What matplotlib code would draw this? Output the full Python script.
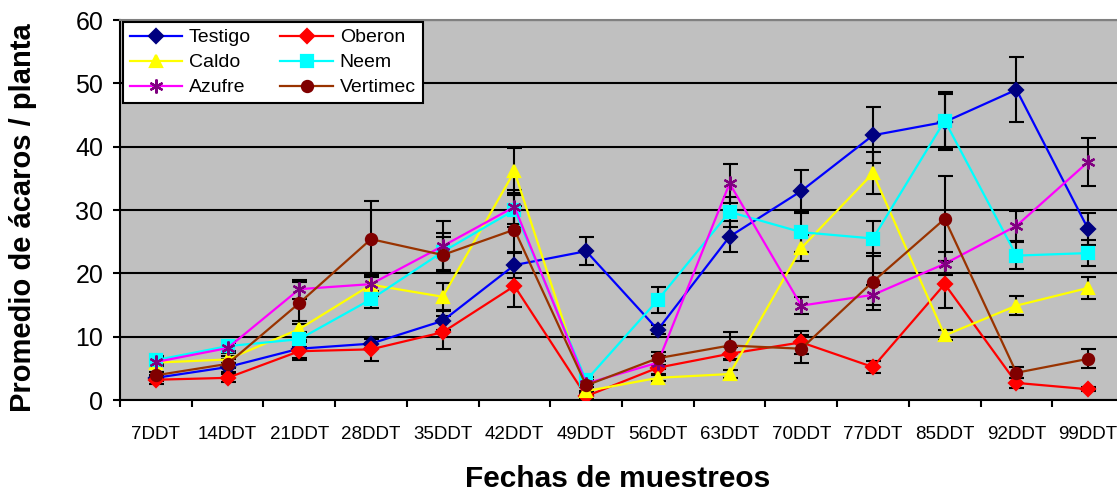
import matplotlib
matplotlib.use('Agg')
import matplotlib.pyplot as plt
import numpy as np

plt.rcParams['font.family'] = ['Liberation Sans', 'DejaVu Sans']

# fechas de muestreo y promedios por tratamiento
fechas = ['7DDT', '14DDT', '21DDT', '28DDT', '35DDT', '42DDT', '49DDT',
          '56DDT', '63DDT', '70DDT', '77DDT', '85DDT', '92DDT', '99DDT']

testigo = [3.5, 5.2, 8.1, 8.9, 12.5, 21.3, 23.5, 11.1, 25.8, 33.0, 41.8, 43.9, 49.0, 27.0]
oberon = [3.2, 3.5, 7.7, 8.0, 10.7, 18.0, 0.6, 5.1, 7.3, 9.1, 5.2, 18.3, 2.7, 1.7]
caldo = [5.9, 6.4, 11.2, 18.2, 16.3, 36.1, 1.4, 3.5, 4.1, 24.0, 35.8, 10.2, 14.9, 17.7]
neem = [6.3, 8.5, 9.6, 15.9, 23.4, 30.0, 3.1, 15.8, 29.7, 26.5, 25.5, 44.1, 22.8, 23.2]
azufre = [6.0, 8.2, 17.5, 18.3, 24.3, 30.5, 2.6, 5.9, 34.2, 14.9, 16.6, 21.5, 27.5, 37.6]
vertimec = [3.9, 5.7, 15.3, 25.4, 22.9, 26.9, 2.3, 6.6, 8.6, 8.1, 18.7, 28.6, 4.3, 6.5]

# error (+/-)
err_testigo = [0.5, 0.7, 1.4, 0.7, 1.5, 2.1, 2.2, 0.7, 2.5, 3.3, 4.4, 4.4, 5.1, 2.5]
err_oberon = [0.6, 0.6, 1.4, 1.8, 2.6, 3.3, 0.5, 1.0, 1.0, 1.8, 0.9, 3.7, 0.8, 0.3]
err_caldo = [0.6, 0.6, 1.3, 1.5, 2.1, 3.7, 0.6, 0.5, 0.7, 2.1, 3.3, 0.8, 1.5, 1.8]
err_neem = [0.6, 0.8, 1.2, 1.3, 2.9, 2.7, 0.6, 2.0, 2.4, 3.1, 2.8, 4.5, 2.1, 2.1]
err_azufre = [0.7, 0.8, 1.5, 1.8, 3.9, 2.7, 0.6, 1.0, 3.1, 1.3, 1.6, 1.8, 2.4, 3.8]
err_vertimec = [0.6, 0.7, 3.3, 6.0, 2.9, 3.7, 0.8, 1.0, 2.2, 2.2, 4.5, 6.7, 0.9, 1.5]

series = [
    ('Testigo', testigo, err_testigo, '#0000FF', '#000080', 'D', 7.5),
    ('Oberon', oberon, err_oberon, '#FF0000', '#FF0000', 'D', 7.5),
    ('Caldo', caldo, err_caldo, '#FFFF00', '#FFFF00', '^', 9),
    ('Neem', neem, err_neem, '#00FFFF', '#00FFFF', 's', 9),
    ('Azufre', azufre, err_azufre, '#FF00FF', '#800080', (6, 2, 0), 10),
    ('Vertimec', vertimec, err_vertimec, '#993300', '#800000', 'o', 8),
]

fig = plt.figure(figsize=(11.17, 4.97), dpi=100)
ax = fig.add_axes([120 / 1117, 97 / 497, 1004 / 1117, 380 / 497])
ax.set_facecolor('#C0C0C0')

x = np.arange(len(fechas))
handles = {}
for name, vals, err, lc, mc, mk, ms in series:
    ax.errorbar(x, vals, yerr=err, fmt='none', ecolor='black', elinewidth=1.5,
                capsize=5.4, capthick=1.5, zorder=3)
    h, = ax.plot(x, vals, color=lc, lw=1.6, marker=mk, markersize=ms,
                 markerfacecolor=mc, markeredgecolor=mc, markeredgewidth=1.6,
                 zorder=4)
    handles[name] = h

ax.set_xlim(-0.5, len(fechas) - 0.5)
ax.set_ylim(0, 60)
ax.set_yticks(np.arange(0, 61, 10))
ax.yaxis.grid(True, color='black', lw=1.5)
ax.set_axisbelow(True)

ax.set_xticks(x)
ax.set_xticklabels(fechas, fontsize=13.5)
ax.set_xticks(np.arange(-0.5, len(fechas)), minor=True)
ax.tick_params(axis='x', which='major', length=0, pad=19)
ax.tick_params(axis='x', which='minor', length=5, width=1.5, direction='out')
ax.tick_params(axis='y', length=5, width=1.5, direction='out', labelsize=18, pad=7)

for s in ['left', 'bottom']:
    ax.spines[s].set_color('black')
    ax.spines[s].set_linewidth(1.5)
for s in ['top', 'right']:
    ax.spines[s].set_color('#808080')
    ax.spines[s].set_linewidth(1.5)

ax.set_xlabel('Fechas de muestreos', fontsize=21.5, fontweight='bold')
ax.xaxis.set_label_coords(0.496, -0.172)
ax.set_ylabel('Promedio de ácaros / planta', fontsize=21, fontweight='bold')
ax.yaxis.set_label_coords(-0.083, 0.48)

order = ['Testigo', 'Caldo', 'Azufre', 'Oberon', 'Neem', 'Vertimec']
leg = ax.legend([handles[n] for n in order], order, ncol=2, loc='upper left',
                bbox_to_anchor=(0.003, 0.995), fontsize=14, frameon=True,
                fancybox=False, edgecolor='black', framealpha=1,
                handlelength=2.7, handletextpad=0.35, columnspacing=1.5,
                labelspacing=0.38, borderpad=0.35, borderaxespad=0)
leg.get_frame().set_linewidth(1.5)
leg.set_zorder(10)

fig.savefig('out.png', dpi=100, facecolor='white')
